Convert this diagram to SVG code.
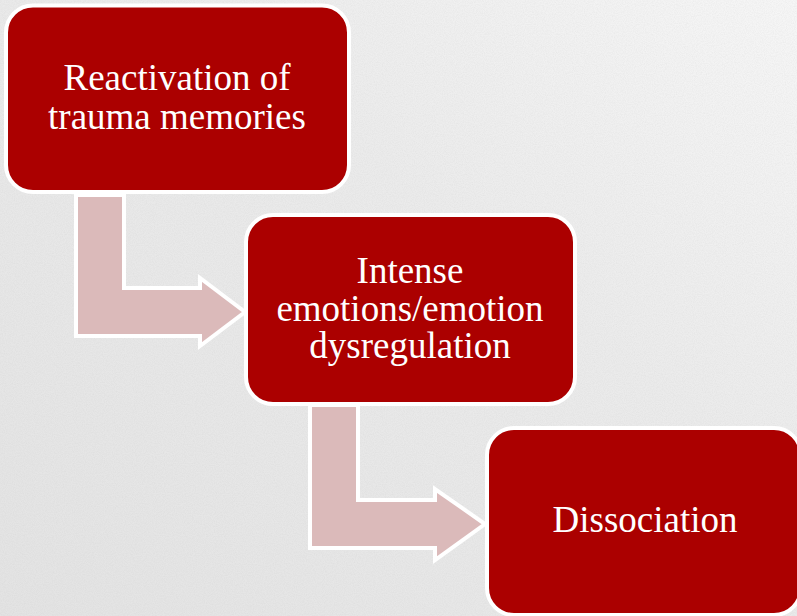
<svg xmlns="http://www.w3.org/2000/svg" width="797" height="616" viewBox="0 0 797 616">
  <defs>
    <linearGradient id="bg" x1="0" y1="1" x2="1" y2="0">
      <stop offset="0" stop-color="#e3e3e3"/>
      <stop offset="0.6" stop-color="#ebebeb"/>
      <stop offset="1" stop-color="#f6f6f6"/>
    </linearGradient>
    <filter id="grain" x="0" y="0" width="100%" height="100%">
      <feTurbulence type="fractalNoise" baseFrequency="0.9" numOctaves="2" seed="3" result="n"/>
      <feColorMatrix in="n" type="matrix" values="0 0 0 0 0.5  0 0 0 0 0.5  0 0 0 0 0.5  0 0 0 0.9 -0.3"/>
    </filter>
    <style>
      .box { fill: #ab0000; stroke: #ffffff; stroke-width: 4; }
      .flow { fill: #dbbaba; stroke: #ffffff; stroke-width: 4; stroke-linejoin: miter; }
      .label { fill: #ffffff; font-family: 'Liberation Serif', 'DejaVu Serif', serif; font-size: 37px; text-anchor: middle; }
    </style>
  </defs>

  <!-- background with a fine paper grain -->
  <rect x="0" y="0" width="797" height="616" fill="url(#bg)"/>
  <rect x="0" y="0" width="797" height="616" filter="url(#grain)" opacity="0.3"/>

  <!-- connectors: bent block arrows -->
  <g id="connectors">
    <path class="flow" d="M76,195 L124,195 L124,288 L200,288 L200,278 L245,312 L200,346 L200,336 L76,336 Z"/>
    <path class="flow" d="M310,405 L358,405 L358,500 L435,500 L435,489 L485,524 L435,560 L435,548 L310,548 Z"/>
  </g>

  <g id="node-reactivation">
    <rect class="box" x="6" y="5.5" width="343" height="186.5" rx="27" ry="27"/>
    <text class="label" x="177" y="90">Reactivation of</text>
    <text class="label" x="177" y="129">trauma memories</text>
  </g>

  <g id="node-emotions">
    <rect class="box" x="246" y="215" width="329" height="189" rx="27" ry="27"/>
    <text class="label" x="410" y="283">Intense</text>
    <text class="label" x="410" y="321">emotions/emotion</text>
    <text class="label" x="410" y="358">dysregulation</text>
  </g>

  <g id="node-dissociation">
    <rect class="box" x="487" y="428" width="314" height="187" rx="27" ry="27"/>
    <text class="label" x="645" y="532">Dissociation</text>
  </g>
</svg>
